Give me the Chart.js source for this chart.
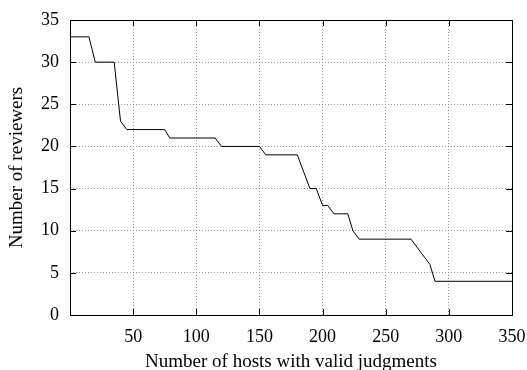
<!DOCTYPE html>
<html><head><meta charset="utf-8">
<script src="https://cdn.jsdelivr.net/npm/chart.js@4/dist/chart.umd.min.js"></script>
<style>html,body{margin:0;padding:0;background:#fff}#wrap{width:527px;height:370px}</style>
</head><body><div id="wrap"><canvas id="c" width="527" height="370"></canvas></div>
<script>
const hostCounts = [0, 15, 20, 35, 40, 45, 75, 79, 115, 120, 150, 155, 180, 190, 195, 200, 204, 209, 220, 224, 229, 270, 285, 289, 350];
const reviewerCounts = [33, 33, 30, 30, 23, 22, 22, 21, 21, 20, 20, 19, 19, 15, 15, 13, 13, 12, 12, 10, 9, 9, 6, 4, 4];
const xTicks = [0, 50, 100, 150, 200, 250, 300, 350];
const yTicks = [0, 5, 10, 15, 20, 25, 30, 35];

const FONT = "'Liberation Serif', 'DejaVu Serif', serif";
const frame = {
  id: 'frame',
  afterDraw(chart) {
    const {ctx, chartArea: a, scales} = chart;
    ctx.save();
    ctx.strokeStyle = '#000';
    ctx.lineWidth = 1;
    const L = 6;
    ctx.beginPath();
    xTicks.forEach(v => {
      const px = Math.round(scales.x.getPixelForValue(v)) + 0.5;
      ctx.moveTo(px, a.bottom); ctx.lineTo(px, a.bottom - L);
      ctx.moveTo(px, a.top); ctx.lineTo(px, a.top + L);
    });
    yTicks.forEach(v => {
      const py = Math.round(scales.y.getPixelForValue(v)) + 0.5;
      ctx.moveTo(a.left, py); ctx.lineTo(a.left + L, py);
      ctx.moveTo(a.right, py); ctx.lineTo(a.right - L, py);
    });
    ctx.stroke();
    ctx.strokeRect(Math.round(a.left) + 0.5, Math.round(a.top) + 0.5, Math.round(a.right - a.left), Math.round(a.bottom - a.top));
    ctx.restore();
  }
};

new Chart(document.getElementById('c'), {
  type: 'line',
  data: {
    datasets: [{
      data: hostCounts.map((x, i) => ({x, y: reviewerCounts[i]})),
      borderColor: '#000', borderWidth: 1, pointRadius: 0, tension: 0, fill: false
    }]
  },
  options: {
    responsive: false, animation: false,
    layout: {padding: {top: 20, right: 15, left: 0, bottom: 0}},
    plugins: {legend: {display: false}, tooltip: {enabled: false}},
    scales: {
      x: {
        type: 'linear', min: 0, max: 350,
        afterBuildTicks: s => { s.ticks = xTicks.map(v => ({value: v})); },
        afterFit: s => { s.height = 55; s.paddingLeft = 0; s.paddingRight = 0; },
        ticks: {color: '#000', font: {family: FONT, size: 18}, padding: 11,
          callback: v => v === 0 ? '' : String(v), maxRotation: 0, autoSkip: false},
        grid: {color: '#999', drawTicks: false, lineWidth: 1},
        border: {display: false, dash: [1, 2]},
        title: {display: true, text: 'Number of hosts with valid judgments', color: '#000',
          font: {family: FONT, size: 19, lineHeight: 1}, padding: {top: 0, bottom: -2}}
      },
      y: {
        type: 'linear', min: 0, max: 35,
        afterBuildTicks: s => { s.ticks = yTicks.map(v => ({value: v})); },
        afterFit: s => { s.width = 70; s.paddingTop = 0; s.paddingBottom = 0; },
        ticks: {color: '#000', font: {family: FONT, size: 18}, padding: 11},
        grid: {color: '#999', drawTicks: false, lineWidth: 1},
        border: {display: false, dash: [1, 2]},
        title: {display: true, text: 'Number of reviewers', color: '#000',
          font: {family: FONT, size: 19}, padding: {top: 6, bottom: 0}}
      }
    }
  },
  plugins: [frame]
});
</script>
</body></html>
